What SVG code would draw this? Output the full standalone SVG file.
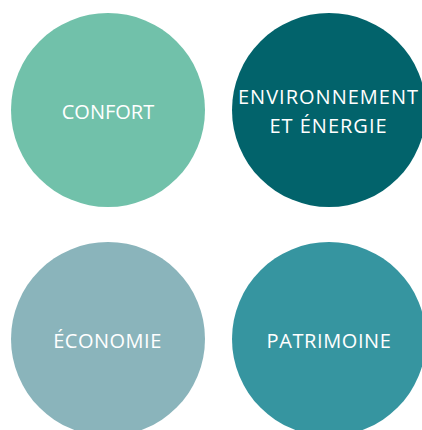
<svg xmlns="http://www.w3.org/2000/svg" width="422" height="430" viewBox="0 0 422 430">
<style>
text{font-family:"Open Sans","Liberation Sans",sans-serif;font-size:20px;fill:#ffffff;text-anchor:middle}
</style>
<rect width="422" height="430" fill="#ffffff"/>
<g id="confort"><circle cx="108" cy="110" r="97" fill="#71c1aa"/><text x="108" y="119">CONFORT</text></g>
<g id="environnement"><circle cx="329" cy="110" r="97" fill="#02636b"/><text x="328.5" y="104" letter-spacing="1">ENVIRONNEMENT</text><text x="328.5" y="133" letter-spacing="1">ET ÉNERGIE</text></g>
<g id="economie"><circle cx="108" cy="339" r="97" fill="#8ab4bb"/><text x="107.5" y="348" letter-spacing="0.5">ÉCONOMIE</text></g>
<g id="patrimoine"><circle cx="329" cy="339" r="97" fill="#3695a0"/><text x="329" y="348" letter-spacing="0.6">PATRIMOINE</text></g>
<g id="connectors"/>
</svg>
